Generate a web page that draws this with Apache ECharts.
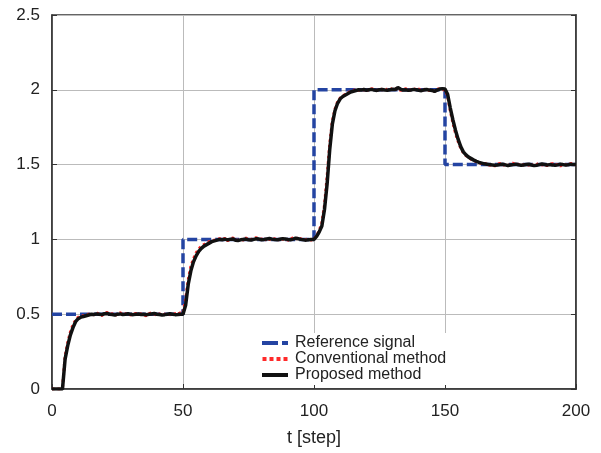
<!DOCTYPE html>
<html>
<head>
<meta charset="utf-8">
<script src="https://cdn.jsdelivr.net/npm/echarts@6/dist/echarts.min.js"></script>
<style>
  html, body { margin: 0; padding: 0; background: #fff; }
  #container { width: 601px; height: 453px; }
</style>
</head>
<body>
<div id="container"></div>
<script>
// reference signal corners (t, value)
var refT = [0, 50, 50, 100, 100, 150, 150, 200];
var refV = [0.5, 0.5, 1, 1, 2, 2, 1.5, 1.5];

// proposed method, one value per step t = 0..200
var proposed = [
  0, 0, 0, 0, 0, 0.2, 0.29, 0.36, 0.41, 0.45, 0.47, 0.48, 0.485, 0.49,
  0.495, 0.50, 0.498, 0.502, 0.50, 0.497, 0.503, 0.505, 0.50, 0.498, 0.494, 0.50,
  0.502, 0.498, 0.50, 0.503, 0.499, 0.497, 0.50, 0.501, 0.498, 0.50, 0.496, 0.499,
  0.502, 0.505, 0.50, 0.498, 0.495, 0.497, 0.50, 0.503, 0.50, 0.497, 0.498, 0.50,
  0.50, 0.56, 0.70, 0.79, 0.85, 0.89, 0.92, 0.94, 0.955, 0.965, 0.975, 0.985, 0.99, 0.995,
  1.0, 0.998, 1.002, 0.997, 1.0, 1.003, 0.995, 0.993, 0.997, 1.0, 1.002, 0.998,
  0.996, 1.0, 1.004, 1.002, 0.998, 1.0, 1.003, 1.006, 1.002, 0.999, 0.997, 1.001,
  1.005, 1.003, 1.0, 0.998, 1.002, 1.008, 1.004, 1.0, 0.997, 0.995, 0.998, 1.0,
  1.0, 1.02, 1.05, 1.09, 1.2, 1.37, 1.6, 1.77, 1.86, 1.91, 1.94, 1.955, 1.965, 1.975, 1.985, 1.99,
  1.995, 2.0, 1.998, 2.002, 1.997, 2.0, 2.003, 1.998, 1.996, 2.0, 2.002, 1.999,
  1.997, 2.0, 2.004, 2.002, 2.015, 2.005, 1.998, 2.0, 1.996, 1.999, 2.003, 2.0,
  1.997, 1.994, 2.0, 2.002, 1.998, 1.996, 1.99, 1.998, 2.005, 2.008,
  2.005, 1.97, 1.88, 1.80, 1.73, 1.67, 1.62, 1.585, 1.565, 1.55, 1.54, 1.53, 1.522, 1.515, 1.51, 1.505,
  1.503, 1.5, 1.498, 1.495, 1.497, 1.5, 1.502, 1.498, 1.494, 1.497, 1.5, 1.503,
  1.499, 1.496, 1.498, 1.5, 1.502, 1.497, 1.493, 1.496, 1.5, 1.504, 1.501, 1.497,
  1.5, 1.498, 1.495, 1.498, 1.502, 1.5, 1.497, 1.499, 1.503, 1.5, 1.5
];

// conventional method, one value per step t = 0..200
var conventional = [
  0, 0, 0, 0, 0.01, 0.22, 0.31, 0.38, 0.43, 0.46, 0.48, 0.49, 0.49, 0.495,
  0.5, 0.505, 0.495, 0.51, 0.498, 0.49, 0.508, 0.512, 0.497, 0.503, 0.49, 0.505,
  0.51, 0.495, 0.502, 0.508, 0.494, 0.5, 0.506, 0.497, 0.503, 0.495, 0.49, 0.504,
  0.51, 0.5, 0.494, 0.503, 0.49, 0.5, 0.507, 0.498, 0.493, 0.505, 0.5, 0.51,
  0.51, 0.6, 0.73, 0.82, 0.87, 0.91, 0.935, 0.955, 0.965, 0.975, 0.985, 0.99, 0.995, 1.0,
  1.005, 0.995, 1.008, 0.99, 1.003, 1.01, 0.992, 0.997, 1.005, 0.995, 1.01, 0.993,
  1.0, 1.007, 1.012, 0.996, 1.004, 0.993, 1.01, 1.0, 0.995, 1.006, 0.99, 1.008,
  1.0, 1.012, 0.994, 1.003, 1.01, 1.015, 0.997, 1.005, 0.99, 1.0, 1.006, 0.995,
  1.0, 1.025, 1.06, 1.11, 1.23, 1.42, 1.64, 1.79, 1.87, 1.92, 1.945, 1.96, 1.97, 1.98, 1.99, 1.995,
  2.005, 1.995, 2.01, 1.998, 2.006, 1.992, 2.008, 2.0, 1.995, 2.01, 2.0, 1.993,
  2.005, 2.012, 1.998, 2.004, 2.01, 1.996, 2.0, 2.008, 1.99, 2.003, 2.01, 1.997,
  2.005, 1.993, 2.0, 2.01, 1.995, 2.0, 1.99, 2.003, 2.008, 2.0,
  2.0, 1.96, 1.86, 1.78, 1.71, 1.655, 1.61, 1.58, 1.56, 1.548, 1.535, 1.528, 1.52, 1.51, 1.508, 1.5,
  1.51, 1.495, 1.505, 1.49, 1.502, 1.508, 1.495, 1.5, 1.49, 1.505, 1.51, 1.497,
  1.503, 1.492, 1.5, 1.508, 1.495, 1.503, 1.49, 1.5, 1.51, 1.497, 1.505, 1.493,
  1.5, 1.507, 1.495, 1.502, 1.49, 1.505, 1.5, 1.495, 1.508, 1.498, 1.5
];

var seriesNames = ['Reference signal', 'Conventional method', 'Proposed method'];

var font = 'Liberation Sans, Arial, sans-serif';
var myChart = echarts.init(document.getElementById('container'), null, {renderer: 'canvas'});

var option = {
    animation: false,
    backgroundColor: '#fff',
    grid: {
        left: 52, right: 25, top: 15, bottom: 64,
        show: true,
        borderColor: '#333',
        borderWidth: 1.5
    },
    legend: {
        // legend icons drawn as small dash patterns
        data: [
            {name: seriesNames[0], icon: 'path://M0,0H16V4H0Z M20,0H26V4H20Z'},
            {name: seriesNames[1], icon: 'path://M0,0H4V4H0Z M7,0H11V4H7Z M14,0H18V4H14Z M21,0H25V4H21Z'},
            {name: seriesNames[2], icon: 'path://M0,0H26V4H0Z'}
        ],
        orient: 'vertical',
        left: 258,
        top: 333,
        itemWidth: 26,
        itemHeight: 4,
        itemGap: 0,
        backgroundColor: '#fff',
        padding: [2, 4, 2, 4],
        textStyle: {fontFamily: font, fontSize: 16, color: '#222', lineHeight: 15.5, padding: [0, 0, 0, 2]}
    },
    xAxis: {
        type: 'value',
        min: 0, max: 200, interval: 50,
        name: 't [step]',
        nameLocation: 'middle',
        nameGap: 40,
        nameTextStyle: {fontFamily: font, fontSize: 18, color: '#222'},
        axisLine: {show: true, lineStyle: {color: '#333', width: 1.5}},
        axisTick: {show: true, inside: true, length: 5, lineStyle: {color: '#333'}},
        axisLabel: {fontFamily: font, fontSize: 17, color: '#222', margin: 14},
        splitLine: {show: true, lineStyle: {color: '#bbb', width: 1}}
    },
    yAxis: [{
        type: 'value',
        min: 0, max: 2.5, interval: 0.5,
        axisLine: {show: true, lineStyle: {color: '#333', width: 1.5}},
        axisTick: {show: true, inside: true, length: 5, lineStyle: {color: '#333'}},
        axisLabel: {fontFamily: font, fontSize: 17, color: '#222', margin: 12},
        splitLine: {show: true, lineStyle: {color: '#bbb', width: 1}}
    }, {
        type: 'value',
        position: 'right',
        min: 0, max: 2.5, interval: 0.5,
        axisLine: {show: true, lineStyle: {color: '#333', width: 1.5}},
        axisTick: {show: true, inside: true, length: 5, lineStyle: {color: '#333'}},
        axisLabel: {show: false},
        splitLine: {show: false}
    }],
    series: [{
        name: seriesNames[0],
        type: 'line',
        data: refT.map(function (t, i) { return [t, refV[i]]; }),
        symbol: 'none',
        color: '#2444a2',
        lineStyle: {color: '#2444a2', width: 3.5, type: [10, 4]},
        z: 2
    }, {
        name: seriesNames[1],
        type: 'line',
        data: conventional.map(function (v, i) { return [i, v]; }),
        symbol: 'none',
        color: '#ff2a2a',
        lineStyle: {color: '#ff2a2a', width: 3, type: [2.5, 3]},
        z: 3
    }, {
        name: seriesNames[2],
        type: 'line',
        data: proposed.map(function (v, i) { return [i, v]; }),
        symbol: 'none',
        color: '#111',
        lineStyle: {color: '#111', width: 3.5},
        z: 4
    }]
};

myChart.setOption(option);
</script>
</body>
</html>
